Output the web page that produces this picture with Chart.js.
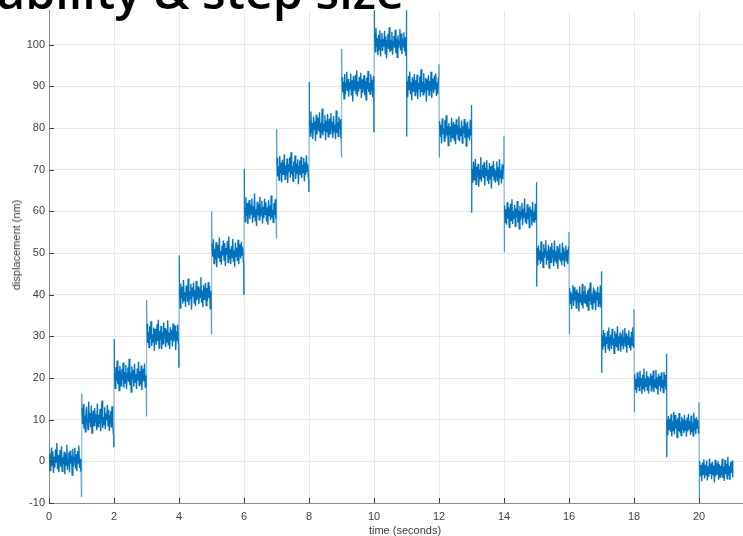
<!DOCTYPE html>
<html>
<head>
<meta charset="utf-8">
<script src="https://cdn.jsdelivr.net/npm/chart.js@4.4.1/dist/chart.umd.min.js"></script>
<style>
  html,body{margin:0;padding:0;background:#fff;overflow:hidden;}
  #wrap{position:relative;width:743px;height:536px;}
  #title{position:absolute;left:-3px;top:-34px;font-family:'Open Sans',sans-serif;font-weight:600;font-size:48.5px;line-height:48px;color:#000;white-space:nowrap;z-index:2;}
  .axt{position:absolute;font-family:'Liberation Sans',Arial,sans-serif;font-size:11px;color:#3a3a3a;white-space:nowrap;transform:translate(-50%,-50%);}
  #ytitle{left:16px;top:245px;transform:translate(-50%,-50%) rotate(-90deg);}
  #xtitle{left:405px;top:530px;}
</style>
</head>
<body>
<div id="wrap">
  <canvas id="c" width="743" height="536"></canvas>
  <div id="title">ability &amp; step size</div>
  <div class="axt" id="ytitle">displacement (nm)</div>
  <div class="axt" id="xtitle">time (seconds)</div>
</div>
<script>
// ---- data ----
const stepTime  = [0,1,2,3,4,5,6,7,8,9,10,11,12,13,14,15,16,17,18,19,20];
const stepLevel = [0.2,10.2,20.3,30.0,40.0,50.0,60.0,70.1,80.3,90.1,100.2,90.0,79.2,69.1,59.2,49.5,39.2,28.9,18.9,8.6,-2.1];
const spikeHigh = [null,16.3,29.3,38.7,49.4,60.0,70.2,79.7,91.0,99.0,108.5,108.5,95.3,85.5,78.0,67.0,55.0,45.6,36.5,25.8,14.2];
const spikeLow  = [null,-8.5,3.4,10.8,22.5,30.5,40.0,53.5,64.7,73.0,79.0,78.0,73.0,59.7,50.2,42.0,30.6,21.3,11.8,1.0,-9.3];
const xTicks = [0,2,4,6,8,10,12,14,16,18,20];
const yTicks = [-10,0,10,20,30,40,50,60,70,80,90,100];

// noise around each step level (nm)
const n00=[1.8,-2.4,0.6,3.1,-1.2,2.2,-3.0,0.9,-1.7,2.7,-0.4,4.2,-2.1,1.3,-2.8,0.5,2.5,-1.5,3.4,-2.6,0.8,-0.9,2.1,-3.3,1.6,-1.1,3.8,-2.2,0.3,1.9,-2.9,2.4,-0.7,1.2,-3.5,2.8,-1.4,0.7,3.0,-2.0,1.5,-2.5,2.3,-0.6,3.6,-1.8,0.4,-2.7];
const n01=[2.6,-1.3,3.5,-2.3,0.8,-3.1,1.7,2.9,-0.5,-2.6,4.1,-1.0,1.4,-2.0,3.2,-3.4,0.6,2.0,-1.6,2.6,-0.8,1.1,-2.7,3.7,-1.9,0.9,-1.2,2.4,-3.0,1.6,4.4,-2.2,0.5,-1.4,2.8,-2.5,1.3,-0.3,3.3,-1.7,2.1,-2.9,0.7,1.8,-2.1,3.0,-1.1,-3.6];
const n02=[0.9,-2.8,2.3,-1.0,3.9,-1.8,1.5,-3.3,2.6,0.4,-2.2,1.9,-0.7,3.4,-2.6,1.2,-1.5,2.8,-3.0,0.7,2.2,-1.2,4.3,-2.0,1.0,-3.7,2.5,-0.5,1.6,-2.4,3.1,-1.3,0.6,-2.9,2.0,-0.9,3.6,-2.1,1.4,-1.7,2.7,-3.2,0.8,1.9,-1.1,3.2,-2.5,0.3];
const n03=[3.0,-1.6,1.1,-2.7,2.4,-0.6,3.6,-2.3,0.5,-1.3,2.1,-3.5,1.8,0.7,-2.0,2.9,-1.1,4.0,-2.8,1.3,-0.8,2.5,-3.1,1.0,-1.8,3.3,-0.4,2.0,-2.6,1.5,-1.4,3.8,-2.2,0.9,-3.0,2.2,-0.7,1.6,-2.4,3.1,-1.2,0.4,2.6,-3.3,1.2,-0.9,2.8,-1.9];
const n04=[1.4,-3.2,2.7,-0.8,1.9,-2.1,3.5,-1.4,0.6,-2.9,2.2,1.0,-1.7,3.9,-2.5,0.8,-1.0,2.6,-3.6,1.7,-0.5,2.9,-2.0,1.1,-2.7,3.3,-1.3,0.4,2.0,-2.3,1.5,-0.6,4.2,-1.9,1.0,-3.0,2.4,-1.1,0.7,2.8,-2.6,1.6,-1.5,3.0,-0.7,2.1,-3.4,0.9];
const n05=[2.3,-0.9,3.3,-2.5,1.0,-1.6,2.6,-3.4,0.7,2.0,-1.2,3.7,-2.0,0.5,-2.8,1.8,-0.6,3.0,-1.7,2.4,-3.1,1.2,-0.4,2.9,-2.3,4.0,-1.4,0.9,-2.6,1.6,-1.0,3.4,-2.1,0.6,-3.3,2.5,-0.8,1.3,-1.9,3.2,-2.7,0.8,2.1,-1.3,2.7,-0.5,1.4,-2.4];
const n06=[1.0,-2.5,3.4,-1.1,2.0,-3.0,0.8,2.7,-1.8,1.5,-0.6,3.1,-2.7,1.2,-1.4,4.3,-2.2,0.5,-3.5,2.3,-0.9,1.7,-2.0,3.5,-1.3,0.6,2.5,-2.9,1.1,-1.6,3.0,-0.7,2.2,-2.4,0.9,-3.2,2.8,-1.0,1.4,-2.1,3.8,-1.5,0.4,-2.6,2.0,-0.8,2.9,-1.9];
const n07=[2.8,-1.7,0.7,-2.6,3.2,-0.9,1.6,-3.1,2.3,-1.2,0.5,3.6,-2.4,1.0,-1.5,2.6,-3.3,1.3,-0.4,2.9,-2.0,4.1,-1.1,0.8,-2.8,1.9,-0.6,3.3,-2.3,1.4,-1.0,2.4,-3.6,0.6,2.1,-1.4,3.0,-2.1,1.1,-0.7,2.7,-2.9,1.7,-1.3,3.4,-0.5,1.2,-2.2];
const n08=[1.6,-2.2,3.7,-1.4,0.9,-2.9,2.5,-0.6,1.3,-3.4,2.9,-1.9,0.4,2.2,-1.1,3.5,-2.6,1.0,-1.6,4.4,-2.1,0.7,-0.9,2.8,-3.2,1.5,-1.3,3.1,-2.4,0.8,2.0,-1.7,3.3,-0.8,1.2,-2.7,2.6,-1.2,0.5,-3.0,3.9,-1.5,1.1,-2.3,2.4,-0.6,1.8,-2.8];
const n09=[2.1,-1.5,1.0,-3.1,2.9,-2.0,0.6,3.4,-1.2,1.7,-2.6,0.9,-0.7,3.0,-2.3,1.4,-3.7,2.4,-1.0,0.5,2.7,-1.8,3.8,-2.5,1.1,-1.3,2.2,-0.5,3.2,-2.9,1.6,-1.6,0.8,2.6,-2.2,1.2,-3.3,2.0,-0.8,3.6,-1.4,0.7,-2.0,2.8,-1.1,1.5,-2.7,2.3];
const n10=[2.7,-1.9,3.8,-0.8,1.4,-2.7,2.2,-1.4,3.3,-3.0,0.9,2.6,-1.7,1.2,-0.6,3.1,-2.3,1.8,-3.5,0.7,2.4,-1.2,4.0,-2.0,1.0,-1.5,2.9,-2.6,0.5,1.9,-0.9,3.4,-2.2,1.3,-3.2,2.1,-1.0,0.6,3.6,-1.6,2.5,-2.4,1.1,-0.7,2.8,-1.8,1.6,-2.9];
const n11=[1.2,-2.6,2.5,-0.7,3.6,-1.9,1.0,-3.3,2.2,-1.1,0.6,3.0,-2.2,1.5,-1.4,2.8,-3.0,0.8,-0.5,2.4,-2.5,4.1,-1.3,1.1,-2.0,3.2,-1.6,0.4,2.0,-3.6,1.7,-0.9,2.7,-2.1,1.3,-1.2,3.5,-2.7,0.7,1.9,-1.5,2.6,-0.6,3.1,-2.3,1.0,-1.8,2.2];
const n12=[2.5,-1.2,1.6,-2.9,3.1,-0.6,0.9,-2.3,2.7,-1.7,3.9,-1.0,1.3,-3.4,2.0,-0.8,1.1,-2.6,3.3,-1.5,0.5,2.3,-2.1,1.7,-3.1,2.9,-0.7,1.4,-1.9,3.6,-2.4,0.8,-1.1,2.6,-2.8,1.2,-0.4,3.0,-1.6,2.1,-3.5,1.0,2.4,-1.3,0.6,-2.2,2.8,-1.0];
const n13=[1.1,-2.3,2.8,-1.5,0.7,3.5,-2.6,1.6,-0.8,2.3,-3.2,1.0,-1.3,3.9,-2.0,0.6,2.1,-1.1,2.7,-2.9,1.4,-0.5,3.2,-1.8,0.9,-2.5,2.5,-1.2,1.7,-3.6,2.0,-0.7,3.0,-1.6,1.2,-2.2,0.5,2.9,-1.9,1.5,-2.8,3.4,-1.0,0.8,-2.4,2.2,-1.4,1.9];
const n14=[2.2,-1.8,1.3,-2.4,3.0,-0.9,1.8,-3.0,0.6,2.6,-1.4,3.7,-2.2,0.9,-1.0,2.4,-2.8,1.5,-0.6,3.3,-1.9,1.0,-3.4,2.1,-1.2,0.7,2.8,-2.5,1.4,-0.8,3.9,-1.7,0.5,-2.3,2.5,-1.1,1.7,-3.1,2.0,-0.5,1.2,-2.6,3.1,-1.5,0.8,-2.0,2.6,-1.3];
const n15=[1.7,-2.5,2.3,-1.0,1.1,-2.1,3.3,-1.5,0.8,-2.9,2.6,-0.7,1.5,3.6,-2.3,1.0,-1.2,2.5,-3.1,0.6,2.0,-1.7,2.9,-0.6,1.3,-2.6,3.5,-1.3,0.9,-2.0,2.2,-3.3,1.6,-0.9,2.7,-1.5,0.5,-2.4,3.0,-1.1,1.8,-2.8,0.7,2.3,-1.6,1.2,-2.2,2.0];
const n16=[2.4,-1.3,1.5,-2.7,0.8,3.1,-1.9,2.6,-0.6,1.7,-2.4,2.1,-1.2,1.2,-3.2,2.8,-0.9,1.0,-1.7,3.4,-2.5,1.6,-1.0,2.9,-1.4,0.9,-2.1,1.8,-2.9,2.3,-0.7,3.7,-1.6,1.1,-2.6,0.6,2.5,-1.1,1.9,-3.0,1.4,-0.5,2.7,-2.0,1.3,-1.5,3.0,-2.3];
const n17=[1.3,-2.1,2.6,-1.2,1.9,-2.9,1.0,-0.7,2.3,-1.8,3.2,-2.4,0.8,1.5,-1.9,2.9,-1.0,0.6,-3.0,2.4,-1.3,1.7,-1.5,3.5,-2.2,1.1,-0.6,2.0,-2.6,1.4,-1.1,2.7,-2.0,0.7,3.1,-1.4,1.8,-2.8,1.2,-0.8,2.5,-1.7,0.9,-2.3,2.2,-1.0,3.3,-1.6];
const n18=[2.0,-1.6,0.9,-2.5,2.5,-1.1,1.4,-1.9,2.8,-0.8,1.1,-2.7,1.8,-1.4,3.4,-2.2,1.0,-1.0,2.7,-1.8,1.5,-2.6,1.2,-0.7,2.2,-2.0,1.7,-1.3,2.9,-2.3,0.8,-1.1,3.0,-1.5,1.3,-2.9,2.1,-0.6,1.6,-2.1,2.4,-1.2,0.7,-2.4,2.6,-0.9,1.9,-1.7];
const n19=[1.4,-2.3,2.3,-0.9,1.6,-1.5,2.7,-2.6,1.0,-1.2,3.3,-2.1,2.5,-0.7,1.3,-2.9,1.8,-1.3,3.0,-1.7,0.9,-2.4,2.1,-1.0,1.5,-1.8,2.6,-1.1,1.2,-2.7,1.9,-1.4,2.8,-0.8,1.1,-2.2,2.4,-1.6,0.7,-2.5,3.1,-1.2,1.7,-2.0,2.0,-0.6,1.3,-1.9];
const n20=[2.1,-1.4,1.2,-2.7,1.8,-1.0,2.6,-2.0,1.3,-1.3,2.3,-2.5,0.9,-1.6,2.8,-0.8,1.6,-2.2,2.0,-1.1,1.1,-3.0,2.5,-1.5,1.7,-0.9,2.2,-2.3,1.4,-1.7,1.0,-1.2,2.7,-1.9,0.8,-2.6,2.4,-1.0,1.5,-2.1,3.2,-1.3,1.0,-2.4,1.9,-0.7,2.3,-1.8];
const noise=[n00,n01,n02,n03,n04,n05,n06,n07,n08,n09,n10,n11,n12,n13,n14,n15,n16,n17,n18,n19,n20];

// ---- build points ----
const pts=[];
const last=stepLevel.length-1;
for(let k=0;k<stepLevel.length;k++){
  if(k>0){
    const up=stepLevel[k]>stepLevel[k-1];
    const a=up?spikeLow[k]:spikeHigh[k];
    const b=up?spikeHigh[k]:spikeLow[k];
    pts.push({x:stepTime[k]-0.004,y:a,s:1},{x:stepTime[k]+0.004,y:b,s:1});
  }
  const seg=noise[k];
  const span=k===last?1.02:0.965;
  seg.forEach((v,i)=>pts.push({x:stepTime[k]+0.015+i*span/(seg.length-1),y:stepLevel[k]+v}));
}

const inwardTicks={
  id:'inwardTicks',
  afterDatasetsDraw(chart){
    const {ctx,chartArea:a,scales:{x,y}}=chart;
    ctx.save();
    ctx.strokeStyle='#3c3c3c';ctx.lineWidth=1;
    ctx.beginPath();
    xTicks.forEach(v=>{const px=Math.round(x.getPixelForValue(v))+0.5;ctx.moveTo(px,a.bottom);ctx.lineTo(px,a.bottom-5);});
    yTicks.forEach(v=>{const py=Math.round(y.getPixelForValue(v))+0.5;ctx.moveTo(a.left,py);ctx.lineTo(a.left+5,py);});
    ctx.stroke();
    ctx.restore();
  }
};

new Chart(document.getElementById('c'),{
  type:'line',
  data:{datasets:[{data:pts,borderColor:'#0072BD',borderWidth:1.35,pointRadius:0,tension:0,fill:false,
    segment:{borderColor:c=>(c.p0.raw&&c.p0.raw.s)||(c.p1.raw&&c.p1.raw.s)?'rgba(0,114,189,0.55)':undefined,
             borderWidth:c=>(c.p0.raw&&c.p0.raw.s)||(c.p1.raw&&c.p1.raw.s)?1:undefined}}]},
  options:{
    responsive:false,animation:false,
    layout:{padding:{top:8,right:0,left:0,bottom:0}},
    plugins:{legend:{display:false},tooltip:{enabled:false},title:{display:false}},
    scales:{
      x:{type:'linear',min:0,max:21.35,
        afterBuildTicks:s=>{s.ticks=xTicks.map(v=>({value:v}));},
        afterFit:s=>{s.height=33;},
        grid:{color:'#e8e8e8',drawTicks:false},
        border:{color:'#8c8c8c',width:1},
        ticks:{padding:7,color:'#404040',font:{family:"'Liberation Sans', Arial, sans-serif",size:11},maxRotation:0,autoSkip:false}},
      y:{type:'linear',min:-10,max:108.2,
        afterBuildTicks:s=>{s.ticks=yTicks.map(v=>({value:v}));},
        afterFit:s=>{s.width=49;},
        grid:{color:'#e8e8e8',drawTicks:false},
        border:{color:'#8c8c8c',width:1},
        ticks:{padding:4,color:'#404040',font:{family:"'Liberation Sans', Arial, sans-serif",size:11}}}
    }
  },
  plugins:[inwardTicks]
});
</script>
</body>
</html>
